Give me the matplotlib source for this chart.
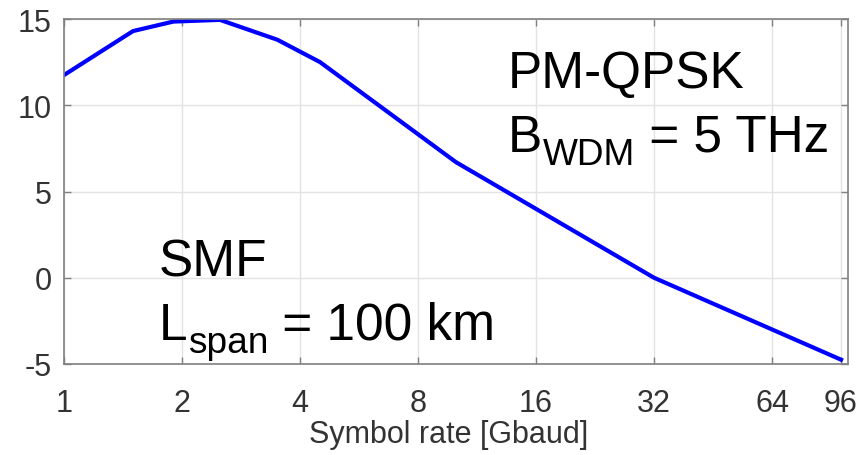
import numpy as np
import matplotlib
matplotlib.use("Agg")
from matplotlib import pyplot as plt
from matplotlib.ticker import FixedLocator, FixedFormatter, NullLocator

# symbol rate [Gbaud] and the curve values
symbol_rate = [1, 1.5, 1.9, 2.5, 3.5, 4.5, 10, 32, 96]
values = [11.75, 14.3, 14.85, 14.95, 13.8, 12.5, 6.7, 0.0, -4.75]

xticks = [1, 2, 4, 8, 16, 32, 64, 96]
xtick_labels = ["1", "2", "4", "8", "16", "32", "64", "96"]
yticks = [-5, 0, 5, 10, 15]

plt.rcParams['font.family'] = ['Liberation Sans', 'DejaVu Sans']

fig = plt.figure(figsize=(8.61, 4.56), dpi=100)
ax = fig.add_axes([64/861, 91/456, (848-64)/861, (365-20)/456])

ax.plot(symbol_rate, values, color="#0000ff", lw=3.0, solid_joinstyle="round")

ax.set_xscale("log", base=2)
ax.set_xlim(1, 100)
ax.set_ylim(-5, 15)
ax.xaxis.set_major_locator(FixedLocator(xticks))
ax.xaxis.set_major_formatter(FixedFormatter(xtick_labels))
ax.xaxis.set_minor_locator(NullLocator())
ax.set_yticks(yticks)
ax.set_yticklabels([str(v) for v in yticks])

ax.grid(True, color="#e3e3e3", lw=1.0)
ax.set_axisbelow(True)
for s in ax.spines.values():
    s.set_color("#808080")
    s.set_linewidth(1.2)
ax.tick_params(direction="in", length=5, width=1.0, color="#808080",
               top=True, right=True, labelsize=22, labelcolor="#333333")
ax.tick_params(axis="x", pad=17)
ax.tick_params(axis="y", pad=9)

ax.set_xlabel("Symbol rate [Gbaud]", fontsize=22, color="#333333")
ax.xaxis.set_label_coords(0.49, -0.16)

renderer = fig.canvas.get_renderer()


def put_text(x, y, parts, size=37):
    # parts: list of (string, is_subscript); x, y in pixels from the top-left
    for s, sub in parts:
        fs = size * 0.72 if sub else size
        yy = y + 13 if sub else y
        t = fig.text(x, 456 - yy, s, transform=None, fontsize=fs, color="black")
        x = x + t.get_window_extent(renderer).width


put_text(508, 88, [("PM-QPSK", False)])
put_text(508, 152, [("B", False), ("WDM", True), (" = 5 THz", False)])
put_text(159, 277, [("SMF", False)])
put_text(159, 340, [("L", False), ("span", True), (" = 100 km", False)])

fig.savefig("out.png", dpi=100)
